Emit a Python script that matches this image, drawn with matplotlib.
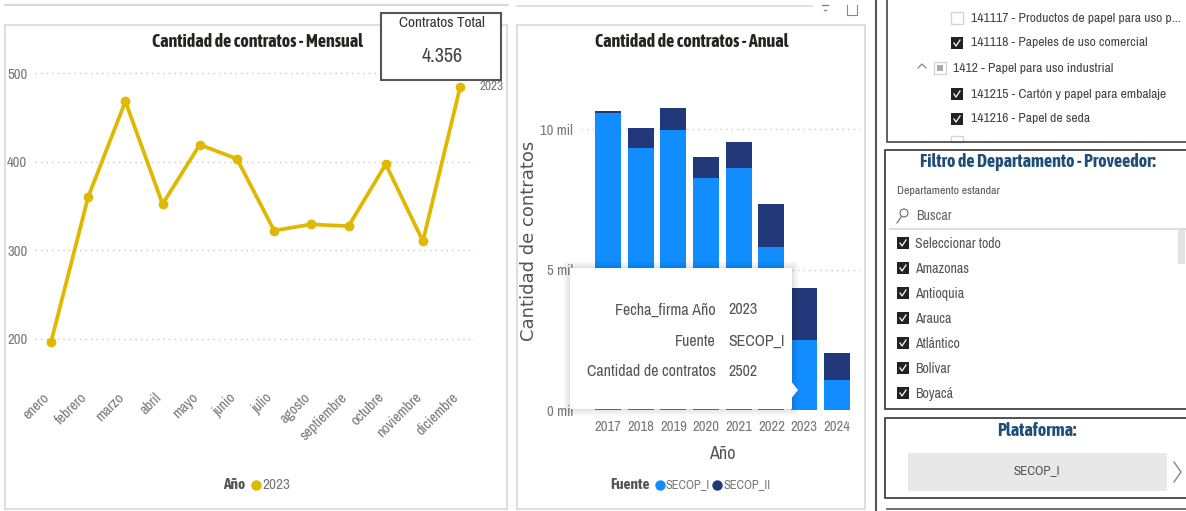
import matplotlib
matplotlib.use('Agg')
import matplotlib.pyplot as plt
from matplotlib.patches import Rectangle, Polygon, Circle
from matplotlib.transforms import ScaledTranslation

W, H = 1186, 511

# chart data
months = ['enero', 'febrero', 'marzo', 'abril', 'mayo', 'junio', 'julio', 'agosto',
          'septiembre', 'octubre', 'noviembre', 'diciembre']
monthly_2023 = [196, 360, 468, 352, 419, 403, 322, 329, 327, 397, 310, 484]
monthly_ticks = [200, 300, 400, 500]

years = ['2017', '2018', '2019', '2020', '2021', '2022', '2023', '2024']
secop_i = [10570, 9323, 9964, 8266, 8610, 5819, 2502, 1069]
secop_ii = [71, 713, 784, 748, 939, 1521, 1854, 962]
annual_ticks = [0, 5000, 10000]
annual_tick_labels = ['0 mil', '5 mil', '10 mil']

# tooltip and card text
tooltip_keys = ['Fecha_firma Año', 'Fuente', 'Cantidad de contratos']
tooltip_vals = ['2023', 'SECOP_I', '2502']

# slicers on the right
tree_items = ['141117 - Productos de papel para uso p...', '141118 - Papeles de uso comercial',
              '141215 - Cartón y papel para embalaje', '141216 - Papel de seda']
tree_checked = [False, True, True, True]
departments = ['Seleccionar todo', 'Amazonas', 'Antioquia', 'Arauca', 'Atlántico', 'Bolívar', 'Boyacá']

NARROW = ['Archivo Narrow', 'Asap Condensed', 'Liberation Sans', 'DejaVu Sans']
BOLD = ['Asap Condensed', 'Liberation Sans', 'DejaVu Sans']
GOLD = '#E0B800'
BLUE = '#118DFF'
NAVY = '#21387A'
GRAY = '#777777'
plt.rcParams['font.family'] = NARROW

fig = plt.figure(figsize=(W / 100, H / 100), dpi=100, facecolor='white')


def px_axes(x0, y0, x1, y1):
    # axes from a box in pixels, y measured from the top
    return fig.add_axes([x0 / W, 1 - y1 / H, (x1 - x0) / W, (y1 - y0) / H], facecolor='none')


def style_chart(ax):
    for s in ax.spines.values():
        s.set_visible(False)
    ax.grid(axis='y', color='#C8C8C8', linestyle=(0, (1, 3)), linewidth=1)
    ax.set_axisbelow(True)
    ax.tick_params(length=0, colors=GRAY, labelsize=10.5)


# monthly line
ax1 = px_axes(35, 60, 475, 375)
style_chart(ax1)
ax1.plot(range(len(months)), monthly_2023, color=GOLD, linewidth=2.7, marker='o', markersize=6)
ax1.set_xlim(-0.43, 11.4)
ax1.set_ylim(158.8, 514.7)
ax1.set_yticks(monthly_ticks)
ax1.set_xticks(range(len(months)))
ax1.set_xticklabels(months, rotation=45, ha='right', rotation_mode='anchor')
ax1.tick_params(axis='x', pad=11)
ax1.tick_params(axis='y', pad=5.5)
# the month labels sit a little left of their ticks
shift = ScaledTranslation(-6 / 72, 0, fig.dpi_scale_trans)
for t in ax1.get_xticklabels():
    t.set_transform(t.get_transform() + shift)

# annual stacked bars
ax2 = px_axes(581, 60, 860, 410)
style_chart(ax2)
ax2.bar(years, secop_i, width=0.8, color=BLUE)
ax2.bar(years, secop_ii, width=0.8, bottom=secop_i, color=NAVY)
ax2.set_xlim(-0.826, 7.71)
ax2.set_ylim(0, 12473)
ax2.set_yticks(annual_ticks)
ax2.set_yticklabels(annual_tick_labels)
ax2.tick_params(axis='x', pad=7)
ax2.tick_params(axis='y', pad=5.5)

# everything else sits on a pixel overlay above the charts
ov = fig.add_axes([0, 0, 1, 1], facecolor='none', zorder=5)
ov.set_xlim(0, W)
ov.set_ylim(H, 0)
ov.axis('off')


def rect(x0, y0, x1, y1, fc='none', ec='none', lw=1, **kw):
    ov.add_patch(Rectangle((x0, y0), x1 - x0, y1 - y0, facecolor=fc, edgecolor=ec, linewidth=lw, **kw))


def label(x, y, s, size=10.5, color=GRAY, ha='left', **kw):
    ov.text(x, y, s, fontsize=size, color=color, ha=ha, va='center', **kw)


def bold(x, y, s, size, color):
    ov.text(x, y, s, fontsize=size, color=color, ha='center', va='center', family=BOLD, fontweight='bold')


def checkbox(x, y, checked, size=12):
    if checked:
        rect(x, y - size / 2, x + size, y + size / 2, fc='#222222')
        ov.plot([x + 3, x + size * 0.42, x + size - 3], [y, y + 3, y - 3], color='white', linewidth=0.9)
    else:
        rect(x, y - size / 2, x + size, y + size / 2, fc='white', ec='#D5D5D5', lw=1)


# panel frames
rect(5, 25, 507, 509, ec='#DEDEDE', lw=1.5)
rect(517, 25, 865, 509, ec='#DEDEDE', lw=1.5)
ov.plot([5, 508], [5, 5], color='#CFCFCF', linewidth=1.2)
ov.plot([517, 812], [6, 6], color='#DADADA', linewidth=1.2)
ov.plot([822, 828], [5, 5], color='#888888', linewidth=1)
ov.plot([824, 826], [10, 10], color='#888888', linewidth=1)
ov.plot([847, 847, 857, 857], [5, 15, 15, 5], color='#888888', linewidth=0.8)

# titles
bold(257, 42, 'Cantidad de contratos - Mensual', 13, '#252423')
bold(692, 42, 'Cantidad de contratos - Anual', 13, '#252423')

# series label at the end of the line
label(480, 86, '2023', size=9.5, color=GRAY)

# KPI card
rect(381, 13, 501, 80, fc='white', ec='#555555', lw=1.5)
label(442, 23, 'Contratos Total', size=11, color='#333333', ha='center')
label(442, 57, '4.356', size=14.5, color='#444444', ha='center')

# legends
bold(234, 485, 'Año', 11, '#555555')
ov.plot([256], [485], 'o', color=GOLD, markersize=6.5)
label(262, 485, '2023', size=11, color=GRAY)
bold(630, 485, 'Fuente', 11, '#555555')
ov.plot([660], [485], 'o', color=BLUE, markersize=6.5)
label(666, 485, 'SECOP_I', size=9, color=GRAY)
ov.plot([717], [485], 'o', color=NAVY, markersize=6.5)
label(724, 485, 'SECOP_II', size=9, color=GRAY)

# axis titles of the bar chart
label(722, 454, 'Año', size=13, color='#555555', ha='center')
ov.text(529, 241, 'Cantidad de contratos', fontsize=13, color='#555555', rotation=90, ha='center', va='center',
        family='DejaVu Sans')

# tooltip with a soft shadow
for grow, alpha in [(7, 0.02), (5, 0.03), (3, 0.03), (1, 0.04)]:
    rect(570 - grow, 268 - grow, 792 + grow, 409 + grow, fc='black', alpha=alpha)
rect(570, 268, 792, 409, fc='white')
ov.add_patch(Polygon([(790, 380), (798, 390), (790, 400)], closed=True, facecolor='white', edgecolor='none'))
for i in range(3):
    y = 310 + i * 31
    label(716, y, tooltip_keys[i], size=11.5, color='#555555', ha='right')
    label(728, y, tooltip_vals[i], size=11.5, color='#555555')

# right column frames
ov.plot([876, 876], [0, H], color='#555555', linewidth=1.5)
ov.plot([887, 887, W], [0, 142, 142], color='#444444', linewidth=1.2)
rect(885, 150, W + 5, 409, fc='white', ec='#333333', lw=1.2)
rect(885, 418, W + 5, 498, fc='white', ec='#333333', lw=1.2)
ov.plot([887, W], [509, 509], color='#555555', linewidth=1.2)

# hierarchy slicer
tree_y = [18, 43, 94, 119]
for i in range(len(tree_items)):
    checkbox(951, tree_y[i], tree_checked[i])
    label(971, tree_y[i], tree_items[i], size=9.8, color='#444444')
ov.plot([918, 922, 926], [68, 64, 68], color='#888888', linewidth=0.9)
rect(934, 62, 946, 74, fc='white', ec='#D5D5D5')
rect(937, 65, 943, 71, fc='#AAAAAA')
label(953, 68, '1412 - Papel para uso industrial', size=9.8, color='#444444')
rect(951, 136, 963, 142, fc='white', ec='#D5D5D5')

# department slicer
bold(1038, 162, 'Filtro de Departamento - Proveedor:', 13, '#1F4E79')
label(897, 191, 'Departamento estandar', size=8.5, color='#555555')
ov.add_patch(Circle((904, 213), 4, facecolor='none', edgecolor='#666666', linewidth=0.8))
ov.plot([901, 897], [217, 223], color='#666666', linewidth=0.8)
label(916, 216, 'Buscar', size=10, color='#666666')
ov.plot([890, W], [229, 229], color='#D8D8D8', linewidth=1.2)
rect(1178, 229, 1185, 264, fc='#E3E3E3')
for i in range(len(departments)):
    y = 243 + i * 25
    checkbox(897, y, True)
    label(915, y + 1, departments[i], size=10, color='#555555')

# platform slicer
bold(1037, 431, 'Plataforma:', 13, '#1F4E79')
rect(908, 453, 1167, 491, fc='#E8E8E8')
label(1037, 471, 'SECOP_I', size=9.5, color='#555555', ha='center')
ov.plot([1174, 1181, 1174], [462, 472, 482], color='#888888', linewidth=1)

fig.savefig('out.png', dpi=100)
